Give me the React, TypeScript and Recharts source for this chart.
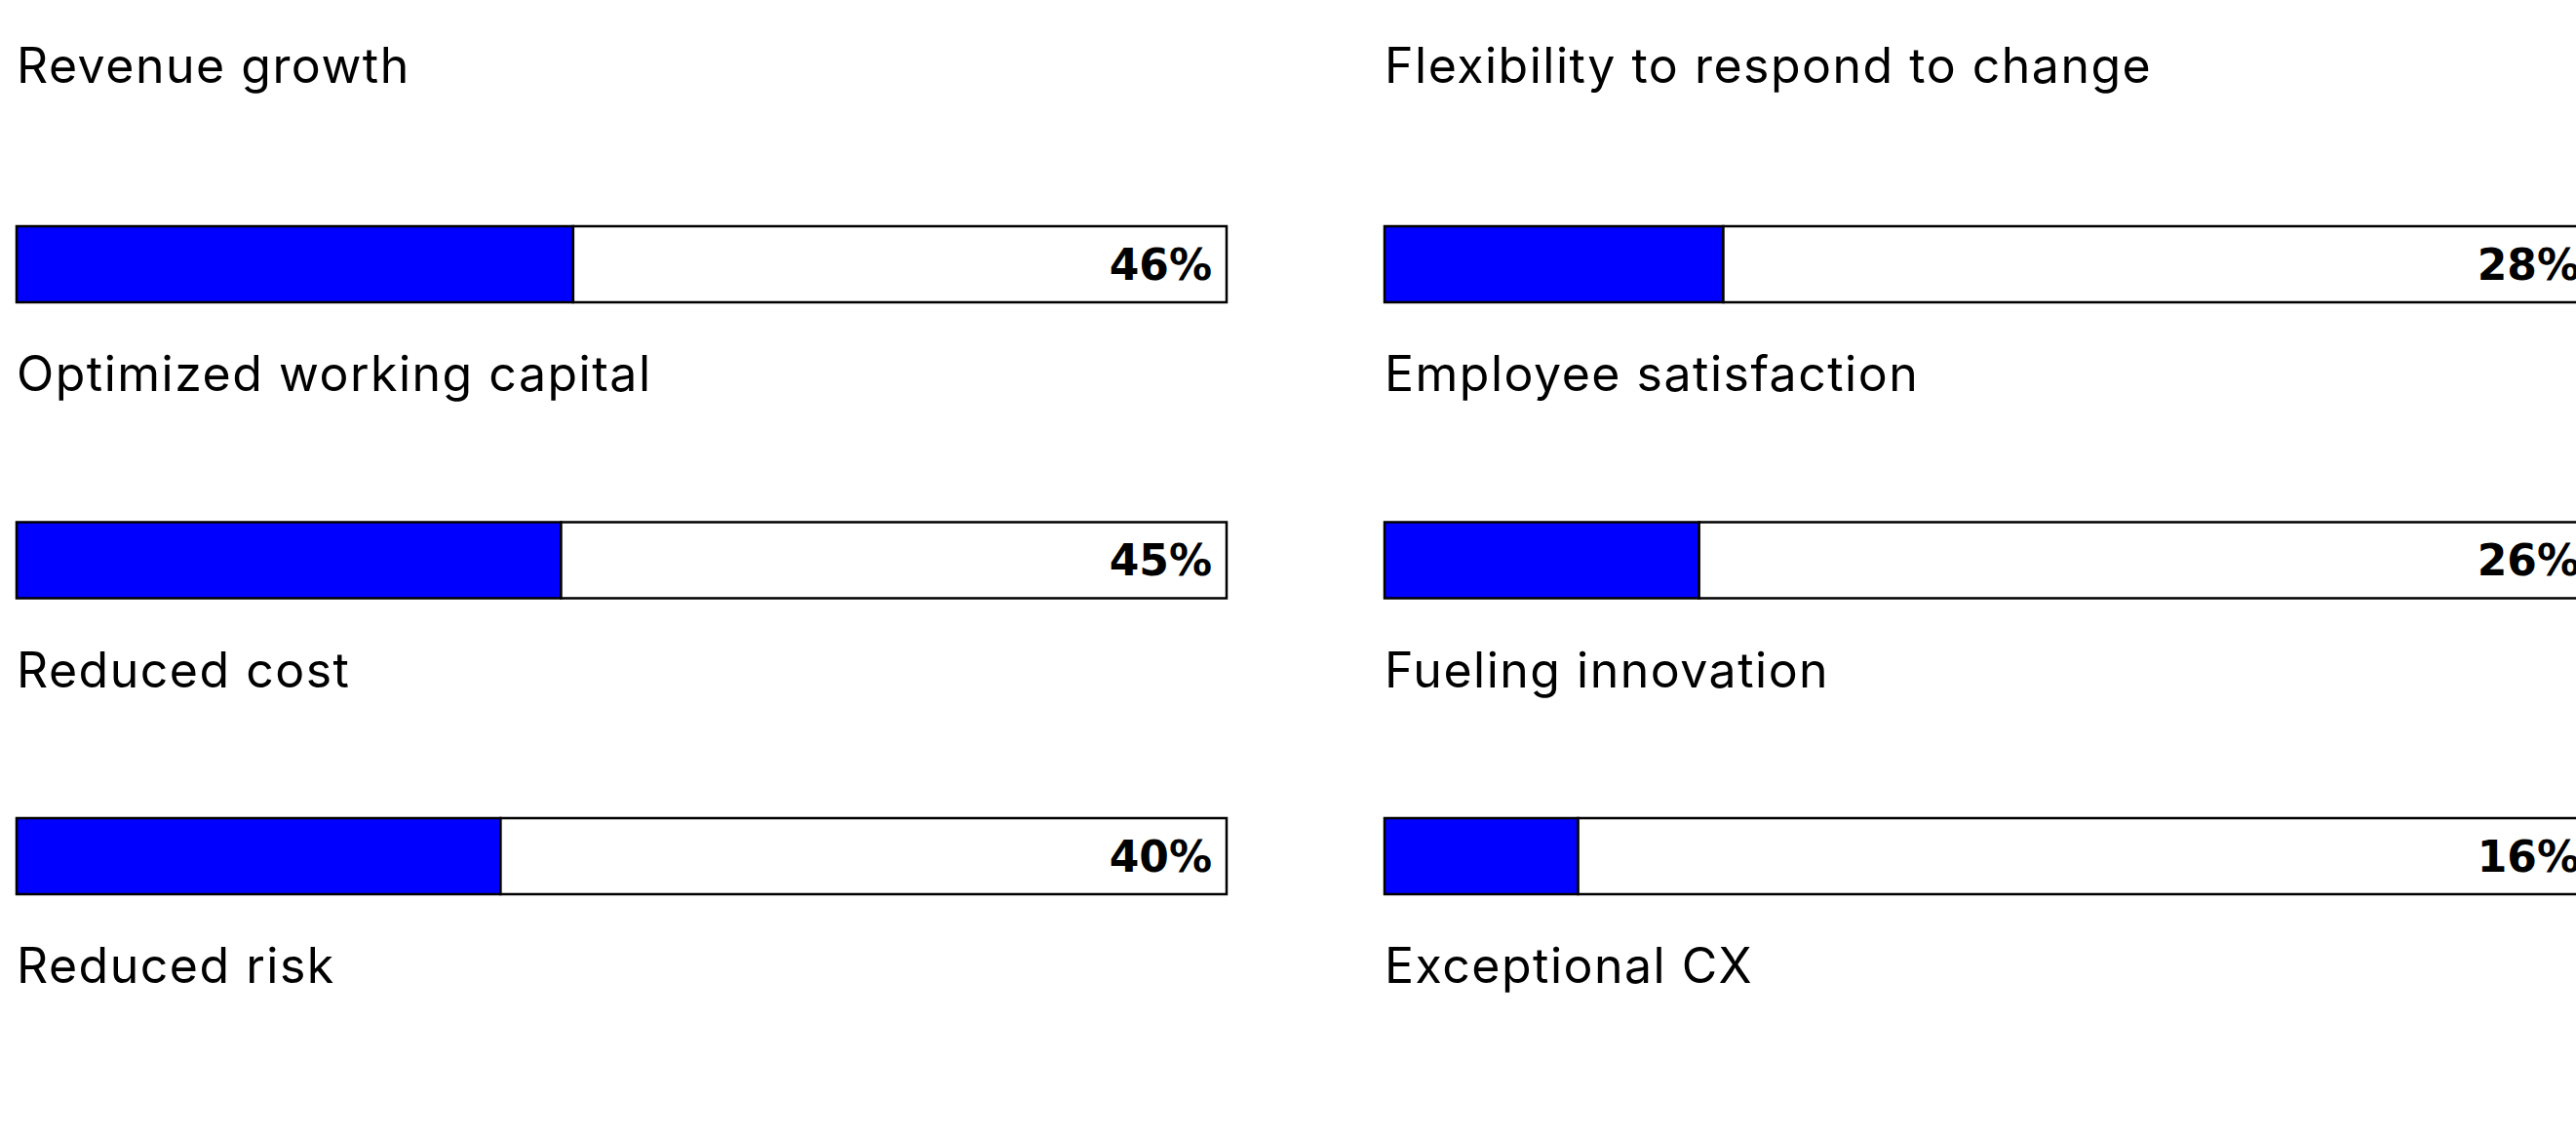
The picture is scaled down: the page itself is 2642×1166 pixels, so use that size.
import { Bar, BarChart, LabelList, XAxis, YAxis } from "recharts";

const leftCategories = ["Revenue growth", "Optimized working capital", "Reduced cost", "Reduced risk"];
const leftValues: Array<number | null> = [46, 45, 40, null];

const rightCategories = [
  "Flexibility to respond to change",
  "Employee satisfaction",
  "Fueling innovation",
  "Exceptional CX",
];
const rightValues: Array<number | null> = [28, 26, 16, null];

const BLUE = "#0000FF";
const INK = "#000000";
const LABEL_FONT = "Inter, 'Noto Sans', sans-serif";
const VALUE_FONT = "'DejaVu Sans', sans-serif";

const CHART_W = 1262;
const CHART_H = 1333;
const MARGIN = { top: 119, right: 4, bottom: 0, left: 16 };

function toRows(categories: string[], values: Array<number | null>) {
  return categories.map((name, i) => ({
    name,
    value: values[i],
    rest: values[i] == null ? null : 100 - (values[i] as number),
  }));
}

function CategoryTick(props: any) {
  const { y, payload, index } = props;
  if (y == null || !payload) return null;
  // the first heading sits a little higher than the rest
  const lift = index === 0 ? 13 : 0;
  return (
    <text
      x={MARGIN.left + 1}
      y={Number(y) - 173 - lift}
      textAnchor="start"
      fontFamily={LABEL_FONT}
      fontSize={50}
      letterSpacing={1.5}
      fill={INK}
    >
      {payload.value}
    </text>
  );
}

function PercentLabel(props: any) {
  const { x, y, width, height, value } = props;
  if (value == null) return null;
  return (
    <text
      x={Number(x) + Number(width) - 15}
      y={Number(y) + Number(height) / 2}
      textAnchor="end"
      dominantBaseline="central"
      fontFamily={VALUE_FONT}
      fontWeight={700}
      fontSize={44}
      fill={INK}
    >
      {`${value}%`}
    </text>
  );
}

function Panel({ categories, values }: { categories: string[]; values: Array<number | null> }) {
  const data = toRows(categories, values);
  return (
    <BarChart width={CHART_W} height={CHART_H} data={data} layout="vertical" margin={MARGIN} barSize={78}>
      <XAxis type="number" domain={[0, 100]} hide />
      <YAxis
        type="category"
        dataKey="name"
        width={1}
        axisLine={false}
        tickLine={false}
        interval={0}
        tick={(p: any) => <CategoryTick {...p} />}
      />
      <Bar dataKey="value" stackId="a" fill={BLUE} stroke={INK} strokeWidth={2.5} isAnimationActive={false} />
      <Bar dataKey="rest" stackId="a" fill="#ffffff" stroke={INK} strokeWidth={2.5} isAnimationActive={false}>
        <LabelList dataKey="value" content={<PercentLabel />} />
      </Bar>
    </BarChart>
  );
}

export default function App() {
  return (
    <div
      style={{
        position: "absolute",
        top: 0,
        left: 0,
        width: 2642,
        height: 1166,
        overflow: "hidden",
        background: "#ffffff",
      }}
    >
      <div style={{ position: "absolute", top: 0, left: 0 }}>
        <Panel categories={leftCategories} values={leftValues} />
      </div>
      <div style={{ position: "absolute", top: 0, left: 1403 }}>
        <Panel categories={rightCategories} values={rightValues} />
      </div>
    </div>
  );
}
